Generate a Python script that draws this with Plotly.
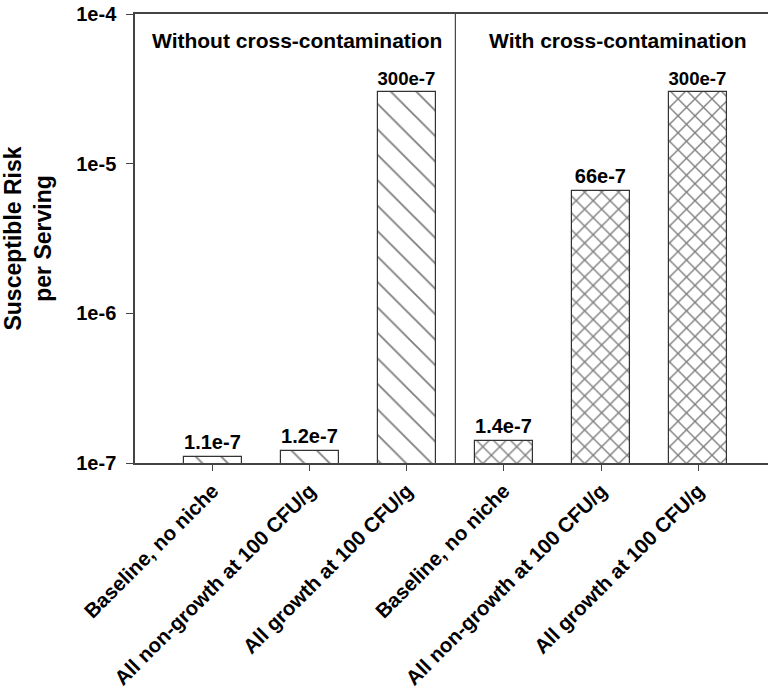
import plotly.graph_objects as go

categories = ["Baseline, no niche", "All non-growth at 100 CFU/g", "All growth at 100 CFU/g"]
without_values = [1.1e-7, 1.2e-7, 3.0e-5]
without_labels = ["1.1e-7", "1.2e-7", "300e-7"]
with_values = [1.4e-7, 6.6e-6, 3.0e-5]
with_labels = ["1.4e-7", "66e-7", "300e-7"]
group_titles = ["Without cross-contamination", "With cross-contamination"]
y_tickvals = [1e-7, 1e-6, 1e-5, 1e-4]
y_ticktext = ["1e-7", "1e-6", "1e-5", "1e-4"]

FONT = "Liberation Sans, Arial, sans-serif"
x_all = list(range(6))
x_labels = ["<b>" + c + "</b>" for c in categories + categories]

fig = go.Figure()
fig.add_trace(go.Bar(
    x=x_all[:3], y=without_values, width=0.6,
    text=["<b>" + t + "</b>" for t in without_labels], textposition="outside",
    textfont=dict(size=20, color="black", family=FONT),
    marker=dict(color="white", line=dict(color="#333", width=1.2),
                pattern=dict(shape="\\", fgcolor="black", bgcolor="white", size=18, solidity=0.1)),
    cliponaxis=False,
))
fig.add_trace(go.Bar(
    x=x_all[3:], y=with_values, width=0.6,
    text=["<b>" + t + "</b>" for t in with_labels], textposition="outside",
    textfont=dict(size=20, color="black", family=FONT),
    marker=dict(color="white", line=dict(color="#333", width=1.2),
                pattern=dict(shape="x", fgcolor="black", bgcolor="white", size=12, solidity=0.22)),
    cliponaxis=False,
))

fig.add_shape(type="line", xref="x", yref="paper", x0=2.5, x1=2.5, y0=0, y1=1,
              line=dict(color="#444", width=1.2))
for gx, title in zip([0.87, 4.18], group_titles):
    fig.add_annotation(x=gx, xref="x", y=0.942, yref="paper", text="<b>" + title + "</b>",
                       xanchor="center", yanchor="middle",
                       showarrow=False, font=dict(size=21, color="black", family=FONT))

fig.update_layout(
    width=768, height=694,
    margin=dict(l=135, r=0, t=14, b=231, autoexpand=False),
    plot_bgcolor="white", paper_bgcolor="white",
    showlegend=False, bargap=0,
    font=dict(family=FONT, color="black"),
    xaxis=dict(range=[-0.8, 5.72], tickvals=x_all, ticktext=x_labels, tickangle=-45,
               ticks="outside", ticklen=6, tickcolor="#444", showline=True, linecolor="#444",
               linewidth=1.5, mirror=True, showgrid=False, zeroline=False, automargin=False,
               tickfont=dict(size=20.5, color="black", family=FONT)),
    yaxis=dict(type="log", range=[-7, -4], tickvals=y_tickvals,
               ticktext=["<b>" + t + "</b>" for t in y_ticktext],
               ticks="outside", ticklen=7, tickcolor="#444", showline=True, linecolor="#444",
               linewidth=1.5, showgrid=False, zeroline=False, ticklabelstandoff=6,
               automargin=False,
               tickfont=dict(size=20, color="black", family=FONT),
               title=dict(text="<b>Susceptible Risk<br>per Serving</b>", standoff=18,
                          font=dict(size=23, color="black", family=FONT))),
)

fig.write_html("out.html")
